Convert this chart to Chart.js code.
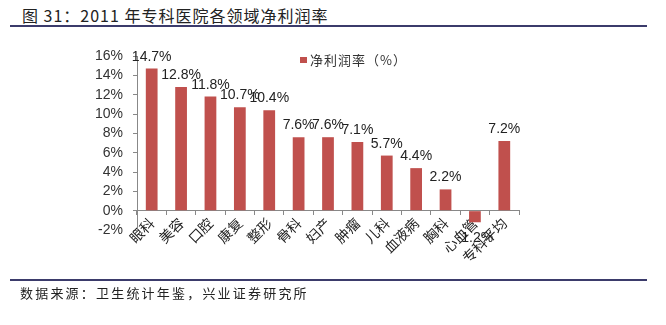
<!DOCTYPE html>
<html>
<head>
<meta charset="utf-8">
<script src="https://cdn.jsdelivr.net/npm/chart.js@4.4.1/dist/chart.umd.min.js"></script>
<style>
  body { margin: 0; background: #fff; }
  #wrap { position: relative; width: 666px; height: 325px; overflow: hidden; }
  #chart { position: absolute; left: 0; top: 0; }
  .title { position: absolute; left: 22px; top: 3px; font: 16px "Noto Sans CJK SC"; color: #222; letter-spacing: 1px; }
  .rule { position: absolute; left: 10px; width: 637px; height: 2px; background: #3b3b6b; }
  .source { position: absolute; left: 20px; top: 283px; font: 13px "Noto Sans CJK SC"; color: #222; letter-spacing: 2.2px; }
  .legend { position: absolute; left: 300px; top: 50px; font: 13px "Noto Sans CJK SC"; color: #333; letter-spacing: 1px; }
  .legend i { display: inline-block; width: 7px; height: 6px; background: #c0504d; margin-right: 3px; vertical-align: 2px; }
</style>
</head>
<body>
<div id="wrap">
  <div class="title">图 31：2011 年专科医院各领域净利润率</div>
  <div class="rule" style="top:25px"></div>
  <canvas id="chart" width="666" height="325"></canvas>
  <div class="legend"><i></i>净利润率（%）</div>
  <div class="rule" style="top:279px"></div>
  <div class="source">数据来源：卫生统计年鉴，兴业证券研究所</div>
</div>
<script>
// 2011 net margin by specialty
const categories = ['眼科', '美容', '口腔', '康复', '整形', '骨科', '妇产', '肿瘤', '儿科', '血液病', '胸科', '心血管', '专科平均'];
const margins = [14.7, 12.8, 11.8, 10.7, 10.4, 7.6, 7.6, 7.1, 5.7, 4.4, 2.2, -1.2, 7.2];
const yTicks = [-2, 0, 2, 4, 6, 8, 10, 12, 14, 16];

const barLabels = {
  id: 'barLabels',
  afterDatasetsDraw(chart) {
    const ctx = chart.ctx;
    const meta = chart.getDatasetMeta(0);
    ctx.save();
    ctx.font = '14px "Liberation Sans", Arial';
    ctx.fillStyle = '#222';
    ctx.textAlign = 'center';
    meta.data.forEach((bar, i) => {
      const v = margins[i];
      const txt = v.toFixed(1) + '%';
      if (v >= 0) {
        ctx.textBaseline = 'alphabetic';
        ctx.fillText(txt, bar.x, bar.y - 8);
      } else {
        ctx.textBaseline = 'top';
        ctx.fillText(txt, bar.x, bar.y + 9);
      }
    });
    ctx.restore();
  }
};

new Chart(document.getElementById('chart'), {
  type: 'bar',
  data: {
    labels: categories,
    datasets: [{
      label: '净利润率（%）',
      data: margins,
      backgroundColor: '#c0504d',
      barPercentage: 0.4,
      categoryPercentage: 1
    }]
  },
  options: {
    responsive: false,
    animation: false,
    layout: { padding: { left: 0, top: 56, right: 147, bottom: 95 } },
    plugins: { legend: { display: false }, tooltip: { enabled: false } },
    scales: {
      x: {
        position: { y: 0 },
        grid: { display: true, drawOnChartArea: false, tickLength: 4, color: '#888', offset: true },
        border: { color: '#888' },
        ticks: {
          minRotation: 45, maxRotation: 45, padding: 0, autoSkip: false,
          color: '#222', font: { family: '"Noto Sans CJK SC"', size: 14 }
        }
      },
      y: {
        min: -2, max: 16,
        afterFit(scale) { scale.width = 137; },
        afterBuildTicks(scale) { scale.ticks = yTicks.map(v => ({ value: v })); },
        grid: { display: true, drawOnChartArea: false, tickLength: 4, color: '#888' },
        border: { color: '#888' },
        ticks: {
          padding: 10, color: '#333', autoSkip: false,
          font: { family: '"Liberation Sans", Arial', size: 14 },
          callback: v => v + '%'
        }
      }
    }
  },
  plugins: [barLabels]
});
</script>
</body>
</html>
